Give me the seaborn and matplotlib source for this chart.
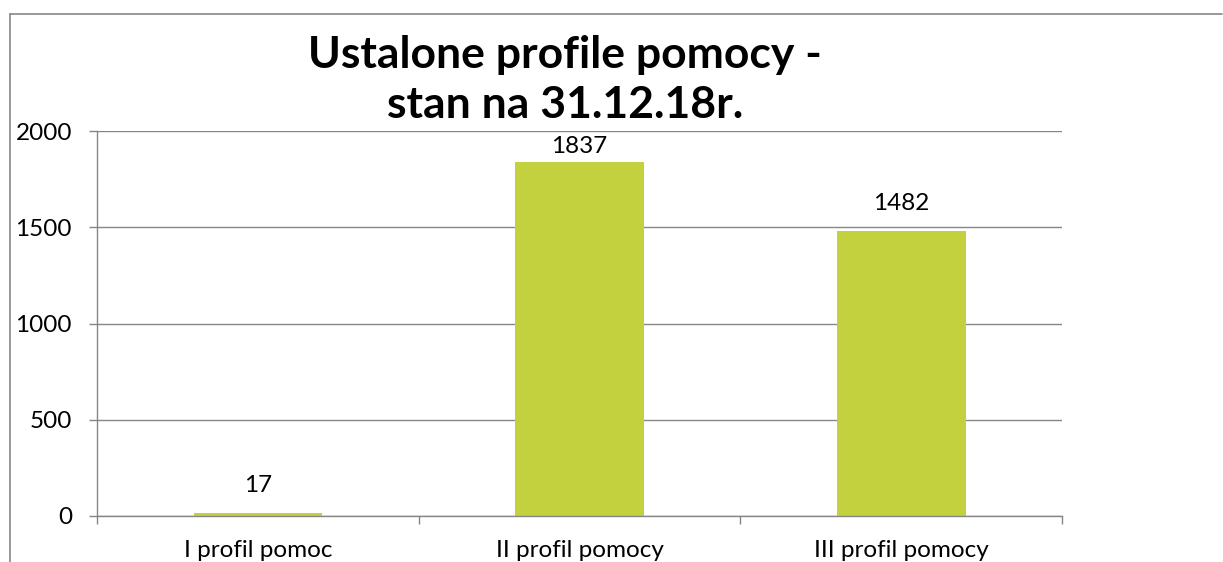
import matplotlib
matplotlib.use("Agg")
import matplotlib.pyplot as plt
import seaborn as sns
import pandas as pd
from matplotlib.lines import Line2D

categories = ["I profil pomoc", "II profil pomocy", "III profil pomocy"]
values = [17, 1837, 1482]
title = "Ustalone profile pomocy -\nstan na 31.12.18r."

sns.set_theme(style="white")
plt.rcParams['font.family'] = ['Lato', 'DejaVu Sans']

W, H = 1223, 562
fig = plt.figure(figsize=(W / 100, H / 100), dpi=100)
ax = fig.add_axes([97 / W, (H - 516) / H, (1062 - 97) / W, (516 - 131) / H])

df = pd.DataFrame({"cat": categories, "val": values})
sns.barplot(data=df, x="cat", y="val", color="#C4D13F", saturation=1,
            width=0.4, ax=ax, edgecolor="none")

grid_c = "#868686"
fs = 17.5
ax.set_ylim(0, 2000)
ax.set_xlim(-0.5, 2.5)
ax.set_yticks([0, 500, 1000, 1500, 2000])
ax.yaxis.grid(True, color=grid_c, linewidth=1)
ax.set_axisbelow(True)
ax.set_xticks([-0.5, 0.5, 1.5, 2.5])
ax.set_xticklabels([])
ax.set_xticks([0, 1, 2], minor=True)
ax.set_xticklabels(categories, minor=True)
ax.tick_params(axis='x', which='major', length=6, width=1, color=grid_c, direction='out', bottom=True)
ax.tick_params(axis='x', which='minor', length=0, pad=17, labelsize=fs, labelcolor='black')
ax.tick_params(axis='y', length=6, width=1, color=grid_c, direction='out', left=True, pad=12,
               labelsize=fs, labelcolor='black')
for s in ['top', 'right']:
    ax.spines[s].set_visible(False)
for s in ['left', 'bottom']:
    ax.spines[s].set_color(grid_c)
    ax.spines[s].set_linewidth(1)
ax.set_xlabel("")
ax.set_ylabel("")

offsets_px = [17, 5, 17]
for i, (v, off) in enumerate(zip(values, offsets_px)):
    ax.annotate(str(v), xy=(i, v), xytext=(0, off * 0.72), textcoords="offset points",
                ha="center", va="bottom", fontsize=fs, color="black")

fig.text(565 / W, 1 - 80 / H, title, ha="center", va="center", fontsize=32,
         fontweight="bold", linespacing=1.28, color="black")

fig.add_artist(Line2D([10 / W, 10 / W], [0, 1 - 14 / H], transform=fig.transFigure,
                      color=grid_c, linewidth=1.2))
fig.add_artist(Line2D([10 / W, 1222 / W], [1 - 14 / H, 1 - 14 / H], transform=fig.transFigure,
                      color=grid_c, linewidth=1.2))

fig.savefig("out.png", dpi=100, facecolor="white")
